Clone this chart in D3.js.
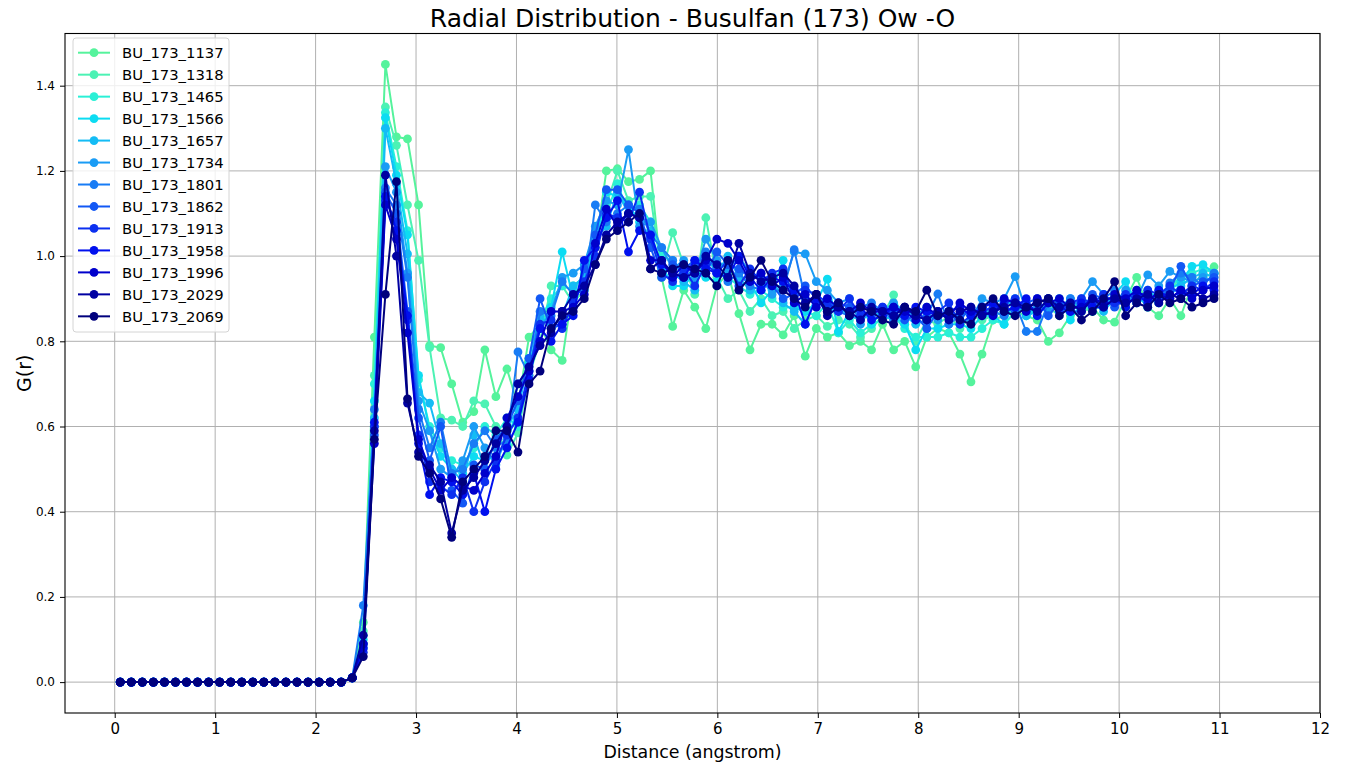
<!DOCTYPE html>
<html>
<head>
<meta charset="utf-8">
<script src="https://cdn.jsdelivr.net/npm/d3@7"></script>
<style>
  body { margin: 0; background: #fff; }
  svg { display: block; }
  text { font-family: "DejaVu Sans", "Liberation Sans", sans-serif; fill: #000; }
</style>
</head>
<body>
<svg id="chart" width="1347" height="765"></svg>
<script>
// Bin centres of the radial distribution (angstrom)
const distance = [0.055,0.165,0.275,0.385,0.495,0.605,0.715,0.825,0.935,1.045,1.155,1.265,1.375,1.485,1.595,1.705,1.815,1.925,2.035,2.145,2.255,2.365,2.475,2.585,2.695,2.805,2.915,3.025,3.135,3.245,3.355,3.465,3.575,3.685,3.795,3.905,4.015,4.125,4.235,4.345,4.455,4.565,4.675,4.785,4.895,5.005,5.115,5.225,5.335,5.445,5.555,5.665,5.775,5.885,5.995,6.105,6.215,6.325,6.435,6.545,6.655,6.765,6.875,6.985,7.095,7.205,7.315,7.425,7.535,7.645,7.755,7.865,7.975,8.085,8.195,8.305,8.415,8.525,8.635,8.745,8.855,8.965,9.075,9.185,9.295,9.405,9.515,9.625,9.735,9.845,9.955,10.065,10.175,10.285,10.395,10.505,10.615,10.725,10.835,10.945];

const seriesNames = ["BU_173_1137","BU_173_1318","BU_173_1465","BU_173_1566","BU_173_1657","BU_173_1734","BU_173_1801","BU_173_1862","BU_173_1913","BU_173_1958","BU_173_1996","BU_173_2029","BU_173_2069"];
const seriesColors = ["#55f39c","#4cf2b4","#2af0d6","#0cdcf2","#14bcf5","#1a9cf5","#187cf5","#1258f5","#0c30f0","#0010ee","#0000cc","#0000a2","#00007d"];

const g1137 = [0,0,0,0,0,0,0,0,0,0,0,0,0,0,0,0,0,0,0,0,0,
  0.01,0.14,0.81,1.45,1.28,1.275,1.12,0.79,0.785,0.70,
  0.61,0.635,0.78,0.67,0.735,0.65,0.81,0.84,0.78,0.755,
  0.93,0.95,1.02,1.20,1.205,1.175,1.18,1.20,0.95,0.835,
  0.92,0.88,0.83,0.93,0.96,0.865,0.78,0.84,0.84,0.815,
  0.86,0.765,0.83,0.81,0.82,0.79,0.80,0.78,0.84,0.78,
  0.80,0.74,0.81,0.83,0.82,0.77,0.705,0.77,0.85,0.86,
  0.87,0.86,0.85,0.80,0.82,0.86,0.87,0.88,0.85,0.845,
  0.90,0.95,0.88,0.86,0.90,0.86,0.93,0.96,0.975];
const g1318 = [0,0,0,0,0,0,0,0,0,0,0,0,0,0,0,0,0,0,0,0,0,
  0.01,0.12,0.72,1.35,1.26,1.12,0.99,0.785,0.62,0.615,
  0.60,0.66,0.653,0.60,0.533,0.585,0.72,0.80,0.93,0.93,
  0.89,0.92,1.04,1.12,1.20,1.13,1.14,1.14,0.96,1.055,
  0.98,0.91,1.09,0.95,0.90,0.92,0.87,0.90,0.86,0.87,
  0.83,0.85,0.86,0.835,0.85,0.84,0.81,0.83,0.86,0.909,
  0.84,0.80,0.85,0.84,0.86,0.83,0.86,0.85,0.86,0.87,
  0.88,0.87,0.88,0.88,0.86,0.89,0.88,0.87,0.89,0.90,
  0.88,0.92,0.90,0.89,0.92,0.95,0.94,0.95,0.96];
const g1465 = [0,0,0,0,0,0,0,0,0,0,0,0,0,0,0,0,0,0,0,0,0,
  0.01,0.11,0.70,1.337,1.21,1.06,0.71,0.60,0.55,0.52,
  0.51,0.55,0.60,0.58,0.62,0.60,0.73,0.85,0.90,0.93,
  0.92,0.96,1.05,1.10,1.17,1.10,1.12,1.08,1.00,0.99,
  0.96,0.94,0.99,0.98,0.95,0.93,0.91,0.92,0.90,0.88,
  0.88,0.87,0.86,0.89,0.82,0.85,0.82,0.84,0.85,0.86,
  0.83,0.81,0.81,0.81,0.82,0.81,0.81,0.83,0.85,0.84,
  0.87,0.88,0.86,0.89,0.87,0.88,0.89,0.87,0.90,0.89,
  0.91,0.90,0.89,0.91,0.93,0.95,0.96,0.97,0.96];
const g1566 = [0,0,0,0,0,0,0,0,0,0,0,0,0,0,0,0,0,0,0,0,0,
  0.01,0.10,0.66,1.325,1.19,1.05,0.72,0.59,0.53,0.50,
  0.49,0.53,0.52,0.53,0.56,0.65,0.75,0.83,0.88,1.01,
  0.90,0.94,1.03,1.15,1.14,1.12,1.08,1.04,0.98,0.93,
  0.93,0.96,0.95,0.94,0.97,0.95,0.94,0.89,0.92,0.99,
  0.88,0.87,0.89,0.946,0.823,0.87,0.88,0.84,0.87,0.86,
  0.84,0.78,0.83,0.83,0.84,0.84,0.83,0.86,0.86,0.84,
  0.90,0.86,0.88,0.89,0.90,0.85,0.89,0.90,0.88,0.91,
  0.94,0.89,0.92,0.90,0.92,0.94,0.976,0.98,0.96];
const g1657 = [0,0,0,0,0,0,0,0,0,0,0,0,0,0,0,0,0,0,0,0,0,
  0.01,0.09,0.62,1.30,1.17,1.005,0.68,0.655,0.56,0.50,
  0.47,0.58,0.50,0.57,0.60,0.64,0.76,0.86,0.83,0.86,
  0.93,0.95,1.04,1.07,1.15,1.10,1.10,1.06,0.97,0.96,
  0.94,0.92,1.00,0.96,1.00,0.95,0.92,0.93,0.95,0.89,
  0.87,0.84,0.91,0.87,0.88,0.86,0.85,0.87,0.86,0.85,
  0.86,0.84,0.85,0.86,0.87,0.86,0.87,0.88,0.86,0.89,
  0.89,0.86,0.87,0.90,0.88,0.90,0.88,0.89,0.87,0.90,
  0.90,0.91,0.88,0.92,0.91,0.93,0.95,0.96,0.95];
const g1734 = [0,0,0,0,0,0,0,0,0,0,0,0,0,0,0,0,0,0,0,0,0,
  0.01,0.08,0.60,1.21,1.15,0.96,0.66,0.59,0.50,0.48,
  0.52,0.60,0.55,0.51,0.58,0.70,0.74,0.83,0.87,0.95,
  0.96,0.98,1.07,1.13,1.12,1.25,1.07,1.08,1.02,0.97,
  0.99,0.95,1.04,0.99,0.97,1.00,0.96,0.95,0.91,0.93,
  1.01,1.005,0.94,0.92,0.89,0.90,0.84,0.88,0.87,0.89,
  0.87,0.86,0.88,0.85,0.87,0.88,0.85,0.90,0.89,0.90,
  0.952,0.87,0.88,0.87,0.89,0.88,0.90,0.94,0.91,0.89,
  0.92,0.90,0.956,0.93,0.964,0.95,0.94,0.95,0.94];
const g1801 = [0,0,0,0,0,0,0,0,0,0,0,0,0,0,0,0,0,0,0,0,0,
  0.01,0.18,0.64,1.16,1.12,0.95,0.64,0.55,0.61,0.49,
  0.50,0.56,0.59,0.55,0.57,0.775,0.72,0.87,0.86,0.94,
  0.91,0.92,1.12,1.08,1.10,1.12,1.11,1.05,1.02,0.99,
  0.95,0.97,1.01,0.97,0.94,0.96,0.93,0.92,0.94,0.92,
  1.015,0.90,0.89,0.90,0.87,0.86,0.88,0.89,0.87,0.85,
  0.87,0.85,0.86,0.911,0.84,0.86,0.87,0.88,0.87,0.86,
  0.89,0.823,0.823,0.89,0.87,0.90,0.88,0.89,0.90,0.92,
  0.89,0.91,0.90,0.89,0.937,0.96,0.95,0.93,0.96];
const g1862 = [0,0,0,0,0,0,0,0,0,0,0,0,0,0,0,0,0,0,0,0,0,
  0.01,0.09,0.58,1.15,1.10,0.87,0.62,0.52,0.60,0.45,
  0.42,0.51,0.50,0.57,0.60,0.66,0.76,0.90,0.83,0.84,
  0.88,0.97,1.05,1.156,1.156,1.12,1.10,1.02,0.95,0.98,
  0.97,0.99,0.96,1.01,0.98,0.97,0.95,0.96,0.93,0.90,
  0.91,0.93,0.90,0.88,0.89,0.88,0.87,0.86,0.88,0.87,
  0.85,0.86,0.83,0.87,0.86,0.85,0.88,0.86,0.87,0.88,
  0.87,0.89,0.90,0.86,0.89,0.87,0.87,0.91,0.90,0.88,
  0.90,0.89,0.91,0.90,0.92,0.976,0.93,0.94,0.95];
const g1913 = [0,0,0,0,0,0,0,0,0,0,0,0,0,0,0,0,0,0,0,0,0,
  0.01,0.07,0.60,1.13,1.08,0.85,0.58,0.47,0.46,0.44,
  0.48,0.40,0.47,0.52,0.58,0.62,0.73,0.84,0.85,0.83,
  0.89,0.94,1.00,1.10,1.09,1.08,1.15,1.04,0.96,0.94,
  0.97,0.93,0.98,0.96,0.99,0.93,0.97,0.94,0.96,0.97,
  0.90,0.92,0.91,0.89,0.87,0.90,0.86,0.87,0.88,0.86,
  0.88,0.87,0.85,0.87,0.89,0.84,0.86,0.87,0.88,0.89,
  0.90,0.88,0.89,0.90,0.87,0.89,0.90,0.89,0.91,0.89,
  0.91,0.90,0.92,0.91,0.93,0.91,0.93,0.92,0.94];
const g1958 = [0,0,0,0,0,0,0,0,0,0,0,0,0,0,0,0,0,0,0,0,0,
  0.01,0.08,0.61,1.14,1.06,0.86,0.56,0.44,0.48,0.47,
  0.44,0.49,0.40,0.50,0.55,0.61,0.71,0.83,0.80,0.84,
  0.86,0.99,1.02,1.09,1.13,1.01,1.06,1.05,0.98,0.96,
  0.95,0.99,0.97,0.96,0.95,1.00,0.95,0.92,0.95,0.94,
  0.92,0.84,0.90,0.87,0.89,0.86,0.88,0.85,0.86,0.88,
  0.86,0.88,0.87,0.86,0.87,0.88,0.86,0.88,0.89,0.87,
  0.88,0.90,0.86,0.89,0.88,0.87,0.89,0.88,0.88,0.90,
  0.88,0.91,0.89,0.92,0.90,0.92,0.91,0.93,0.92];
const g1996 = [0,0,0,0,0,0,0,0,0,0,0,0,0,0,0,0,0,0,0,0,0,
  0.01,0.09,0.56,1.12,1.04,0.82,0.57,0.50,0.45,0.48,
  0.46,0.45,0.49,0.53,0.62,0.67,0.73,0.80,0.87,0.87,
  0.88,0.91,1.03,1.11,1.07,1.10,1.09,0.99,0.99,0.95,
  0.98,0.96,0.99,1.04,1.03,0.99,0.94,0.96,0.93,0.95,
  0.89,0.91,0.88,0.90,0.88,0.87,0.89,0.87,0.87,0.88,
  0.87,0.85,0.88,0.86,0.86,0.89,0.87,0.87,0.86,0.90,
  0.89,0.87,0.90,0.89,0.90,0.88,0.88,0.90,0.89,0.91,
  0.90,0.92,0.90,0.91,0.90,0.92,0.90,0.92,0.93];
const g2029 = [0,0,0,0,0,0,0,0,0,0,0,0,0,0,0,0,0,0,0,0,0,
  0.01,0.11,0.59,1.19,1.00,0.655,0.54,0.51,0.47,0.35,
  0.45,0.48,0.52,0.56,0.60,0.70,0.74,0.79,0.82,0.87,
  0.91,0.93,0.98,1.05,1.08,1.10,1.09,0.97,0.99,0.96,
  0.95,0.96,1.00,0.98,0.95,1.03,0.96,0.94,0.95,0.96,
  0.93,0.89,0.91,0.86,0.88,0.87,0.85,0.88,0.87,0.86,
  0.88,0.86,0.85,0.87,0.85,0.87,0.88,0.86,0.87,0.88,
  0.89,0.88,0.87,0.90,0.88,0.89,0.87,0.90,0.88,0.90,
  0.89,0.90,0.91,0.89,0.91,0.90,0.92,0.90,0.91];
const g2069 = [0,0,0,0,0,0,0,0,0,0,0,0,0,0,0,0,0,0,0,0,0,
  0.01,0.06,0.57,0.91,1.175,0.665,0.53,0.49,0.43,0.34,
  0.47,0.50,0.53,0.59,0.59,0.54,0.70,0.73,0.83,0.86,
  0.87,0.90,0.98,1.04,1.06,1.08,1.10,0.97,0.96,0.97,
  0.98,0.97,0.96,0.93,0.99,0.92,0.95,0.99,0.94,0.92,
  0.90,0.88,0.91,0.87,0.89,0.86,0.88,0.87,0.85,0.84,
  0.88,0.87,0.92,0.86,0.87,0.85,0.84,0.88,0.90,0.87,
  0.86,0.88,0.89,0.90,0.86,0.88,0.85,0.87,0.90,0.94,
  0.86,0.89,0.88,0.91,0.89,0.90,0.88,0.89,0.90];

const seriesValues = [g1137,g1318,g1465,g1566,g1657,g1734,g1801,g1862,g1913,g1958,g1996,g2029,g2069];

const xTicks = [0,1,2,3,4,5,6,7,8,9,10,11,12];
const yTicks = [0.0,0.2,0.4,0.6,0.8,1.0,1.2,1.4];

// Layout of the axes box
const plot = { left: 65, right: 1320, top: 33.5, bottom: 713 };

const svg = d3.select("#chart");

const x = d3.scaleLinear().domain([-0.495, 12]).range([plot.left, plot.right]);
const y = d3.scaleLinear().domain([-0.0725, 1.5225]).range([plot.bottom, plot.top]);

// Grid lines
const grid = svg.append("g").attr("stroke", "#b0b0b0").attr("stroke-width", 1);
grid.selectAll("line.gx").data(xTicks).join("line")
  .attr("x1", d => x(d)).attr("x2", d => x(d))
  .attr("y1", plot.top).attr("y2", plot.bottom);
grid.selectAll("line.gy").data(yTicks).join("line")
  .attr("x1", plot.left).attr("x2", plot.right)
  .attr("y1", d => y(d)).attr("y2", d => y(d));

// Curves with circle markers, one group per series
const line = d3.line().x(d => x(d[0])).y(d => y(d[1]));
const clip = svg.append("clipPath").attr("id", "plotClip").append("rect")
  .attr("x", plot.left).attr("y", plot.top)
  .attr("width", plot.right - plot.left).attr("height", plot.bottom - plot.top);

const series = svg.append("g").attr("clip-path", "url(#plotClip)");
seriesValues.forEach((vals, k) => {
  const pts = distance.map((r, i) => [r, vals[i]]);
  const g = series.append("g");
  g.append("path").datum(pts)
    .attr("d", line).attr("fill", "none")
    .attr("stroke", seriesColors[k]).attr("stroke-width", 2)
    .attr("stroke-linejoin", "round");
  g.selectAll("circle").data(pts).join("circle")
    .attr("cx", d => x(d[0])).attr("cy", d => y(d[1]))
    .attr("r", 4.4).attr("fill", seriesColors[k]);
});

// Axes
const xAxis = d3.axisBottom(x).tickValues(xTicks).tickFormat(d3.format("d")).tickSizeOuter(0).tickSize(5).tickPadding(5);
const yAxis = d3.axisLeft(y).tickValues(yTicks).tickFormat(d3.format(".1f")).tickSizeOuter(0).tickSize(5).tickPadding(5);

const gx = svg.append("g").attr("transform", `translate(0,${plot.bottom})`).call(xAxis);
gx.selectAll("text").attr("font-size", "15px").attr("fill", "#000")
  .attr("font-family", "DejaVu Sans");
const gy = svg.append("g").attr("transform", `translate(${plot.left},0)`).call(yAxis);
gy.selectAll("text").attr("font-size", "12px").attr("fill", "#000")
  .attr("font-family", "DejaVu Sans");
svg.selectAll(".domain").remove();
svg.selectAll(".tick line").attr("stroke", "#000").attr("stroke-width", 1);

// Frame around the axes
svg.append("rect")
  .attr("x", plot.left).attr("y", plot.top)
  .attr("width", plot.right - plot.left).attr("height", plot.bottom - plot.top)
  .attr("fill", "none").attr("stroke", "#000").attr("stroke-width", 1.1);

// Title and axis labels
svg.append("text")
  .attr("x", (plot.left + plot.right) / 2).attr("y", 27)
  .attr("text-anchor", "middle").attr("font-size", "25px")
  .text("Radial Distribution - Busulfan (173) Ow -O");
svg.append("text")
  .attr("x", (plot.left + plot.right) / 2).attr("y", 758)
  .attr("text-anchor", "middle").attr("font-size", "17.4px")
  .text("Distance (angstrom)");
svg.append("text")
  .attr("transform", `translate(31,${(plot.top + plot.bottom) / 2}) rotate(-90)`)
  .attr("text-anchor", "middle").attr("font-size", "19px")
  .text("G(r)");

// Legend
const legend = svg.append("g");
legend.append("rect")
  .attr("x", 73).attr("y", 38).attr("width", 156).attr("height", 294)
  .attr("rx", 3).attr("fill", "#fff").attr("fill-opacity", 0.8)
  .attr("stroke", "#d4d4d4").attr("stroke-width", 1);
seriesNames.forEach((name, k) => {
  const cy = 52.7 + k * 21.97;
  legend.append("line")
    .attr("x1", 78).attr("x2", 110).attr("y1", cy).attr("y2", cy)
    .attr("stroke", seriesColors[k]).attr("stroke-width", 2);
  legend.append("circle")
    .attr("cx", 94).attr("cy", cy).attr("r", 4.4).attr("fill", seriesColors[k]);
  legend.append("text")
    .attr("x", 122).attr("y", cy).attr("dy", "0.36em")
    .attr("font-size", "14.8px")
    .text(name);
});
</script>
</body>
</html>
